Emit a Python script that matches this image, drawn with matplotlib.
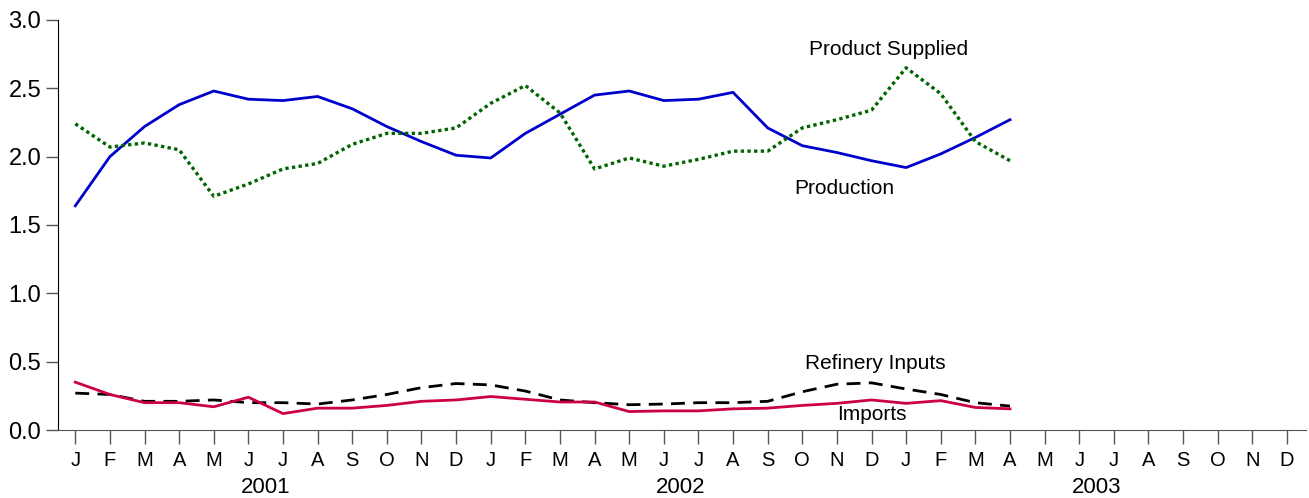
import numpy as np
import matplotlib
matplotlib.use('Agg')
import matplotlib.pyplot as plt
import matplotlib.transforms as mtransforms

plt.rcParams['font.family'] = ['Liberation Sans', 'DejaVu Sans']

# monthly data, Jan 2001 .. Apr 2003
months = ['J', 'F', 'M', 'A', 'M', 'J', 'J', 'A', 'S', 'O', 'N', 'D'] * 3
years = ['2001', '2002', '2003']

production = [1.64, 2.00, 2.22, 2.38, 2.48, 2.42, 2.41, 2.44, 2.35, 2.22, 2.11, 2.01,
              1.99, 2.17, 2.31, 2.45, 2.48, 2.41, 2.42, 2.47, 2.21, 2.08, 2.03, 1.97,
              1.92, 2.02, 2.14, 2.27]
product_supplied = [2.24, 2.07, 2.10, 2.05, 1.71, 1.80, 1.91, 1.95, 2.09, 2.17, 2.17, 2.21,
                    2.39, 2.52, 2.32, 1.91, 1.99, 1.93, 1.98, 2.04, 2.04, 2.21, 2.27, 2.34,
                    2.65, 2.46, 2.11, 1.97]
refinery_inputs = [0.27, 0.26, 0.21, 0.21, 0.22, 0.20, 0.20, 0.19, 0.22, 0.26, 0.31, 0.34,
                   0.33, 0.285, 0.22, 0.20, 0.185, 0.19, 0.20, 0.20, 0.21, 0.28, 0.335, 0.345,
                   0.30, 0.26, 0.20, 0.175]
imports = [0.35, 0.26, 0.20, 0.20, 0.17, 0.24, 0.12, 0.16, 0.16, 0.18, 0.21, 0.22,
           0.245, 0.225, 0.205, 0.205, 0.135, 0.14, 0.14, 0.155, 0.16, 0.18, 0.195, 0.22,
           0.195, 0.215, 0.165, 0.155]

x = np.arange(len(production))

fig = plt.figure(figsize=(13.09, 4.98), dpi=100)
ax = fig.add_axes([0.0443, 0.1365, 0.9534, 0.8235])

ax.plot(x, production, color='#0000CC', lw=2)
ax.plot(x, product_supplied, color='#006400', lw=2.4, linestyle=(0, (1, 1)))
ax.plot(x, refinery_inputs, color='black', lw=2, linestyle=(0, (5, 3)))
ax.plot(x, imports, color='#CC0044', lw=2)

ax.text(23.5, 2.78, 'Product Supplied', ha='center', va='center', fontsize=15)
ax.text(22.2, 1.77, 'Production', ha='center', va='center', fontsize=15)
ax.text(23.1, 0.49, 'Refinery Inputs', ha='center', va='center', fontsize=15)
ax.text(23.0, 0.11, 'Imports', ha='center', va='center', fontsize=15)

ax.set_xlim(-0.5, 35.55)
ax.set_ylim(0, 3.0)
ax.set_yticks(np.arange(0, 3.01, 0.5))
ax.set_yticklabels(['%.1f' % v for v in np.arange(0, 3.01, 0.5)], fontsize=17)
ax.set_xticks(np.arange(36))
ax.set_xticklabels(months, fontsize=14.5)
ax.tick_params(axis='x', length=10, width=1, color='#555555', pad=5)
ax.tick_params(axis='y', length=9, width=1, color='#555555', pad=3)

for s in ['top', 'right']:
    ax.spines[s].set_visible(False)
ax.spines['bottom'].set_color('#555555')
ax.spines['left'].set_color('black')

trans = mtransforms.blended_transform_factory(ax.transData, ax.transAxes)
for k, yr in enumerate(years):
    ax.text(12 * k + 5.5, -0.14, yr, transform=trans, ha='center', va='center', fontsize=16)

fig.savefig('out.png', dpi=100)
